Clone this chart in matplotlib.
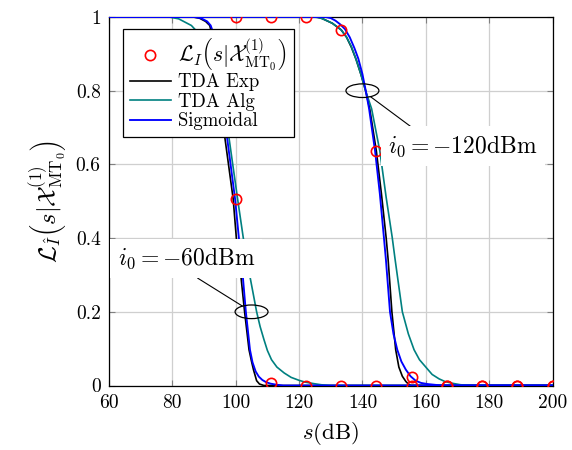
import matplotlib
matplotlib.use("Agg")
import matplotlib.pyplot as plt
from matplotlib.patches import Ellipse

plt.rcParams['font.family'] = 'serif'
plt.rcParams['font.serif'] = ['cmr10']
plt.rcParams['mathtext.fontset'] = 'cm'
plt.rcParams['axes.formatter.use_mathtext'] = True

# ---------------- data ----------------
s_markers = [100, 111.1, 122.2, 133.3, 144.4, 155.6, 166.7, 177.8, 188.9, 200]
L_markers_60 = [0.506, 0.008, 0, 0, 0, 0, 0, 0, 0, 0]
L_markers_120 = [1, 1, 1, 0.965, 0.636, 0.022, 0, 0, 0, 0]

# i0 = -60 dBm
s_exp_60 = [60, 86.5, 88.5, 90.5, 91.8, 94, 96.6, 99.2, 100.2, 101.6, 102.8, 104.2, 105.0, 105.6,
            106.6, 107.5, 108.9, 200]
L_exp_60 = [1, 1, 0.997, 0.988, 0.977, 0.90, 0.671, 0.506, 0.40, 0.30, 0.20, 0.097, 0.065, 0.043,
            0.013, 0.004, 0, 0]

s_alg_60 = [60, 79, 82, 86, 90, 94, 97.9, 100.6, 102.4, 104.4, 106.6, 107.7, 108.9, 110, 111.3,
            113, 115.3, 117.5, 120, 122, 124.7, 127, 130, 200]
L_alg_60 = [1, 1, 0.995, 0.977, 0.94, 0.84, 0.671, 0.506, 0.40, 0.30, 0.20, 0.16, 0.125, 0.095, 0.07,
            0.05, 0.034, 0.022, 0.014, 0.009, 0.005, 0.002, 0, 0]

s_sig_60 = [60, 87, 89, 91, 92.1, 94, 97.3, 99.8, 101.0, 102.2, 103.2, 104.5, 105.3, 106.3, 107.3,
            108.4, 109.6, 111, 113, 115, 200]
L_sig_60 = [1, 1, 0.997, 0.988, 0.977, 0.93, 0.671, 0.506, 0.40, 0.30, 0.20, 0.097, 0.063, 0.038, 0.024,
            0.015, 0.009, 0.005, 0.002, 0, 0]

# i0 = -120 dBm
s_exp_120 = [60, 125.5, 127, 128.5, 130.5, 133.3, 135, 136.5, 138, 139.5, 141, 142.3, 144.4, 146, 147.5,
             148.1, 149.3, 150.5, 151.5, 152.6, 153.7, 154.5, 155.3, 200]
L_exp_120 = [1, 1, 0.997, 0.991, 0.983, 0.965, 0.945, 0.918, 0.885, 0.845, 0.80, 0.751, 0.636, 0.52, 0.40,
             0.343, 0.20, 0.097, 0.05, 0.025, 0.011, 0.004, 0, 0]

s_alg_120 = [60, 124.7, 126.5, 128, 130.5, 133.3, 135, 136.5, 137.9, 139.5, 141, 142.9, 145.5, 147.5,
             149.4, 150.3, 152.6, 154.5, 156.3, 158, 160, 162, 164.2, 166, 168.4, 171, 175, 200]
L_alg_120 = [1, 1, 0.998, 0.993, 0.983, 0.965, 0.945, 0.92, 0.887, 0.845, 0.80, 0.751, 0.636, 0.51,
             0.402, 0.343, 0.20, 0.14, 0.097, 0.07, 0.05, 0.03, 0.018, 0.011, 0.006, 0.002, 0, 0]

s_sig_120 = [60, 128.4, 130, 131.5, 133, 134.5, 136, 137.5, 138.7, 140, 141.05, 142.1, 144.0, 145.5,
             146.8, 147.4, 148.7, 149.8, 151.0, 152.3, 153.7, 155.2, 156.8, 158.5, 160.5, 165, 200]
L_sig_120 = [1, 1, 0.997, 0.99, 0.98, 0.967, 0.945, 0.915, 0.887, 0.845, 0.80, 0.751, 0.636, 0.52,
             0.40, 0.343, 0.20, 0.14, 0.097, 0.065, 0.043, 0.025, 0.013, 0.007, 0.004, 0, 0]

x_ticks = [60, 80, 100, 120, 140, 160, 180, 200]
x_tick_labels = ['60', '80', '100', '120', '140', '160', '180', '200']
y_ticks = [0, 0.2, 0.4, 0.6, 0.8, 1]
y_tick_labels = ['0', '0.2', '0.4', '0.6', '0.8', '1']

legend_labels = [r'$\mathcal{L}_I\left(s|\mathcal{X}^{(1)}_{\mathrm{MT}_0}\right)$',
                 'TDA Exp', 'TDA Alg', 'Sigmoidal']

# ---------------- figure ----------------
fig = plt.figure(figsize=(5.72, 4.5), dpi=100)
ax = fig.add_axes([109/572, 1-385.5/450, 443.5/572, 368.5/450])

c_exp, c_alg, c_sig = 'black', '#008080', '#0000ff'

ax.plot(s_markers, L_markers_60, 'o', ms=7.4, mfc='none', mec='red', mew=1.2, zorder=5,
        label=legend_labels[0])
ax.plot(s_markers, L_markers_120, 'o', ms=7.4, mfc='none', mec='red', mew=1.2, zorder=5)

ax.plot(s_exp_60, L_exp_60, color=c_exp, lw=1.2, zorder=2, label=legend_labels[1])
ax.plot(s_alg_60, L_alg_60, color=c_alg, lw=1.2, zorder=3, label=legend_labels[2])
ax.plot(s_sig_60, L_sig_60, color=c_sig, lw=1.35, zorder=4, label=legend_labels[3])
ax.plot(s_exp_120, L_exp_120, color=c_exp, lw=1.2, zorder=2)
ax.plot(s_alg_120, L_alg_120, color=c_alg, lw=1.2, zorder=3)
ax.plot(s_sig_120, L_sig_120, color=c_sig, lw=1.35, zorder=4)

ax.set_xlim(60, 200)
ax.set_ylim(0, 1)
ax.set_xticks(x_ticks, x_tick_labels)
ax.set_yticks(y_ticks, y_tick_labels)
ax.tick_params(direction='in', length=4, width=0.8, color='#808080',
               top=True, right=True, labelsize=14, pad=6)
ax.grid(True, color='#cfcfcf', lw=0.9, zorder=0)
ax.set_axisbelow(True)
for sp in ax.spines.values():
    sp.set_linewidth(0.9)
    sp.set_color('black')

ax.set_xlabel(r'$s(\mathrm{dB})$', fontsize=16.5, labelpad=6)
ax.set_ylabel(r'$\mathcal{L}_{\hat{I}}\left(s|\mathcal{X}^{(1)}_{\mathrm{MT}_0}\right)$',
              fontsize=17.5, labelpad=5)

# ellipses and annotations
for (cx, cy) in [(105, 0.2), (140, 0.8)]:
    ax.add_patch(Ellipse((cx, cy), width=10.4, height=0.037, fill=False,
                         ec='black', lw=0.9, zorder=6))

ax.annotate(r'$i_0 = -60\mathrm{dBm}$', xy=(105, 0.2), xytext=(84.4, 0.345),
            ha='center', va='center', fontsize=17, zorder=7,
            bbox=dict(boxstyle='square,pad=0.3', fc='white', ec='none'),
            arrowprops=dict(arrowstyle='-', color='black', lw=0.8,
                            shrinkA=0, shrinkB=7.7, relpos=(0.5, 0)))
ax.annotate(r'$i_0 = -120\mathrm{dBm}$', xy=(140, 0.8), xytext=(171.8, 0.65),
            ha='center', va='center', fontsize=17, zorder=7,
            bbox=dict(boxstyle='square,pad=0.3', fc='white', ec='none'),
            arrowprops=dict(arrowstyle='-', color='black', lw=0.8,
                            shrinkA=0, shrinkB=7.4, relpos=(0.21, 1)))

leg = ax.legend(loc='upper left', bbox_to_anchor=(0.0316, 0.967), borderaxespad=0,
                fontsize=13.5, frameon=True, fancybox=False, framealpha=1,
                edgecolor='black', handlelength=2.2, handletextpad=0.4,
                labelspacing=0.08, borderpad=0.35)
leg.get_texts()[0].set_fontsize(15.5)
leg.get_frame().set_linewidth(0.9)
leg.set_zorder(8)

fig.savefig('out.png', dpi=100)
